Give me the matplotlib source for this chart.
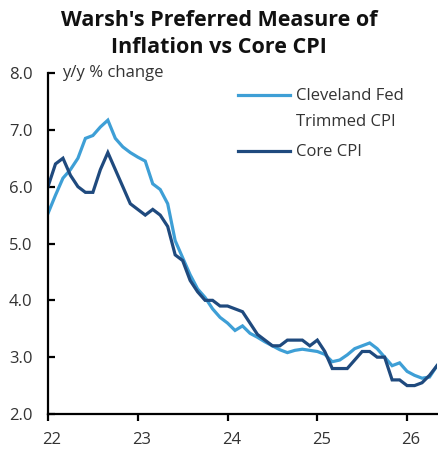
import matplotlib
matplotlib.use('Agg')
import matplotlib.pyplot as plt
import matplotlib.transforms as mtransforms
from matplotlib.lines import Line2D
import numpy as np

plt.rcParams['font.family'] = ['Open Sans', 'DejaVu Sans']

# monthly y/y % change, Jan 2022 .. May 2026
cleveland = [5.53, 5.85, 6.15, 6.3, 6.5, 6.85, 6.9, 7.05, 7.17, 6.85, 6.7, 6.6,
             6.52, 6.45, 6.05, 5.95, 5.7, 5.05, 4.75, 4.45, 4.2, 4.05, 3.85, 3.7,
             3.6, 3.47, 3.55, 3.42, 3.35, 3.27, 3.2, 3.13, 3.08, 3.12, 3.14, 3.12,
             3.1, 3.05, 2.92, 2.95, 3.04, 3.15, 3.2, 3.25, 3.15, 3.0, 2.85, 2.9,
             2.75, 2.68, 2.63, 2.65, 2.85]
core = [6.0, 6.4, 6.5, 6.2, 6.0, 5.9, 5.9, 6.3, 6.6, 6.3, 6.0, 5.7,
        5.6, 5.5, 5.6, 5.5, 5.3, 4.8, 4.7, 4.35, 4.15, 4.0, 4.0, 3.9,
        3.9, 3.85, 3.8, 3.6, 3.4, 3.3, 3.2, 3.2, 3.3, 3.3, 3.3, 3.2,
        3.3, 3.1, 2.8, 2.8, 2.8, 2.95, 3.1, 3.1, 3.0, 3.0, 2.6, 2.6,
        2.5, 2.5, 2.55, 2.68, 2.85]
year_labels = ['22', '23', '24', '25', '26']
yticks = [2.0, 3.0, 4.0, 5.0, 6.0, 7.0, 8.0]

light_blue = '#3E9FD6'
navy = '#1F4A7E'
text_col = '#333333'

months = np.arange(len(core))

fig = plt.figure(figsize=(4.38, 4.49), dpi=100)
ax = fig.add_axes([48 / 438, 35 / 449, 389 / 438, 341 / 449])

ax.plot(months, cleveland, color=light_blue, linewidth=2.3, solid_joinstyle='miter')
ax.plot(months, core, color=navy, linewidth=2.3, solid_joinstyle='miter')

ax.set_xlim(0, len(core) - 1)
ax.set_ylim(2.0, 8.0)
ax.set_yticks(yticks)
ax.set_yticklabels(['%.1f' % v for v in yticks])
ax.set_xticks(np.arange(len(year_labels)) * 12)
ax.set_xticklabels(year_labels)

for s in ['top', 'right']:
    ax.spines[s].set_visible(False)
for s in ['left', 'bottom']:
    ax.spines[s].set_linewidth(1.6)
    ax.spines[s].set_color('black')

ax.tick_params(axis='y', direction='in', length=5, width=1.6, pad=11,
               labelsize=12, labelcolor=text_col)
ax.tick_params(axis='x', direction='out', length=5, width=1.6, pad=8,
               labelsize=12, labelcolor=text_col)
offset = mtransforms.ScaledTranslation(4 / 100, 0, fig.dpi_scale_trans)
for lab in ax.get_xticklabels():
    lab.set_transform(lab.get_transform() + offset)

ax.text(0.037, 1.0, 'y/y % change', transform=ax.transAxes, fontsize=12,
        color=text_col, ha='left', va='center')

# legend
fig.add_artist(Line2D([238 / 438, 290 / 438], [1 - 95 / 449, 1 - 95 / 449],
                      color=light_blue, linewidth=2.3, transform=fig.transFigure))
fig.add_artist(Line2D([238 / 438, 290 / 438], [1 - 151 / 449, 1 - 151 / 449],
                      color=navy, linewidth=2.3, transform=fig.transFigure))
fig.text(296 / 438, 1 - 96 / 449, 'Cleveland Fed', fontsize=12, color=text_col,
         ha='left', va='center')
fig.text(296 / 438, 1 - 122 / 449, 'Trimmed CPI', fontsize=12, color=text_col,
         ha='left', va='center')
fig.text(296 / 438, 1 - 152 / 449, 'Core CPI', fontsize=12, color=text_col,
         ha='left', va='center')

fig.text(0.5, 1 - 34 / 449, "Warsh's Preferred Measure of\nInflation vs Core CPI",
         fontsize=15.5, fontweight='bold', color='#111111', ha='center',
         va='center', linespacing=1.35)

fig.savefig('out.png', dpi=100)
